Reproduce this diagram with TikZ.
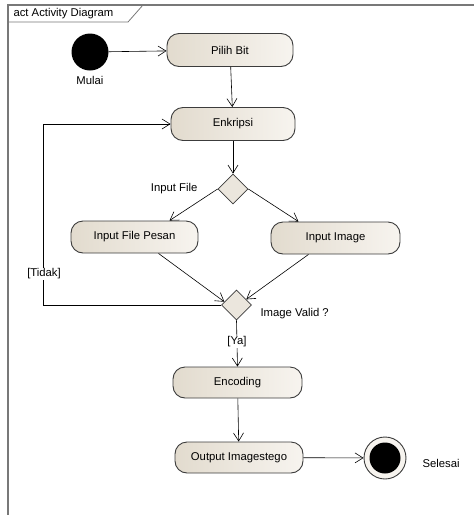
\documentclass[tikz,border=0pt]{standalone}
\usepackage{fontspec}
\setmainfont{Liberation Sans}
\usetikzlibrary{arrows.meta,shapes.geometric,calc}
\definecolor{actleft}{RGB}{226,219,206}
\definecolor{actright}{RGB}{247,244,239}
\definecolor{actline}{RGB}{60,60,60}
\definecolor{framegray}{RGB}{120,120,120}
\tikzset{
  every node/.style={font=\fontsize{11.3}{13}\selectfont},
  action/.style={draw=actline, line width=0.9pt, rectangle, rounded corners=12pt,
    left color=actleft, right color=actright, minimum width=#1, minimum height=33pt,
    inner sep=0pt},
  decision/.style={draw=actline, line width=0.8pt, diamond, aspect=1, fill=actleft!70!white,
    minimum width=30pt, minimum height=30pt, inner sep=0pt},
  flow/.style={line width=0.6pt, -{Straight Barb[length=8pt,width=10pt]}},
  guard/.style={fill=white, inner sep=1pt}
}
\begin{document}
\begin{tikzpicture}[x=1pt, y=-1pt]
  \useasboundingbox (0,0) rectangle (474,515);

  %%%%% FRAME %%%%%
  \draw[framegray, line width=1.2pt] (8,515) -- (8,5) -- (474,5);
  \draw[framegray, line width=0.8pt] (8,22) -- (128,22) -- (143,5);
  \node[anchor=west] (title) at (10,14) {act Activity Diagram};

  %%%%% NODES %%%%%
  \node[circle, fill=black, minimum size=37pt, inner sep=0pt] (start) at (90,52) {};
  \node (mulai) at (90,80) {Mulai};

  \node[action=126pt] (pilih) at (230,50) {Pilih Bit};
  \node[action=124pt] (enkripsi) at (233,124) {Enkripsi};

  \node[decision] (dec1) at (233,189) {};
  \node[anchor=east] (lblfile) at (201,189) {Input File};

  \node[action=127pt, minimum height=32pt] (pesan) at (134.5,237) {Input File Pesan};
  \node[action=129pt, minimum height=32pt] (image) at (335.5,238) {Input Image};

  \node[decision] (dec2) at (236.5,305) {};
  \node[anchor=west] (lblvalid) at (257,314) {Image Valid ?};

  \node[action=129pt, minimum height=31pt] (encoding) at (237.5,382.5) {Encoding};
  \node[action=128pt, minimum height=31pt] (output) at (239,457.5) {Output Imagestego};

  \node[circle, draw=actline, line width=0.9pt, fill=actright, minimum size=42pt, inner sep=0pt] (end) at (385,458) {};
  \node[circle, fill=black, minimum size=31pt, inner sep=0pt] (endin) at (end) {};
  \node[anchor=west] (selesai) at (419,463) {Selesai};

  \coordinate (loop) at (43,124);

  %%%%% FLOWS %%%%%
  \draw[flow] (start) -- (pilih);
  \draw[flow] (pilih) -- (enkripsi);
  \draw[flow] (enkripsi) -- (dec1);
  \draw[flow] (dec1.west) -- ([xshift=35pt]pesan.north);
  \draw[flow] (dec1.east) -- ([xshift=-37pt]image.north);
  \draw[flow] ([xshift=24pt]pesan.south) -- (dec2.165);
  \draw[flow] ([xshift=-27pt]image.south) -- (dec2.30);
  \draw[flow] (dec2.west) -| (loop) -- (enkripsi.west);
  \draw[flow] (dec2.south) -- (encoding.north);
  \draw[flow] (encoding) -- (output);
  \draw[flow] (output) -- (end);

  %%%%% GUARDS %%%%%
  \node[guard] (lbltidak) at (44,274) {[Tidak]};
  \node[guard] (lblya) at (237,342) {[Ya]};
\end{tikzpicture}
\end{document}
